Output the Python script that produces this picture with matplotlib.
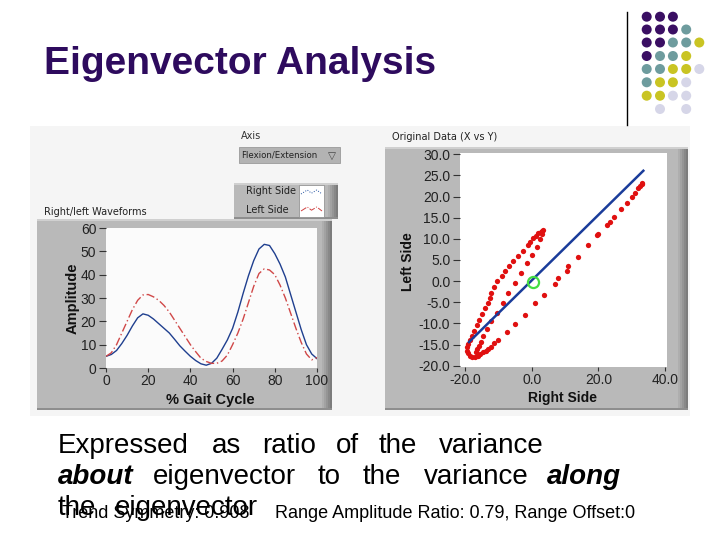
import matplotlib
matplotlib.use("Agg")
import matplotlib.pyplot as plt
from matplotlib.patches import Rectangle, Circle

plt.rcParams['font.family'] = ['Liberation Sans', 'DejaVu Sans']

# ---------------- data ----------------
title = "Eigenvector Analysis"

gait_pct = [0, 2.5, 5, 7.5, 10, 12.5, 15, 17.5, 20, 22.5, 25, 27.5, 30, 32.5, 35, 37.5,
            40, 42.5, 45, 47.5, 50, 52.5, 55, 57.5, 60, 62.5, 65, 67.5, 70, 72.5, 75,
            77.5, 80, 82.5, 85, 87.5, 90, 92.5, 95, 97.5, 100]
right_side = [5.0, 5.8, 7.5, 10.5, 14.0, 18.0, 21.5, 23.2, 22.6, 21.0, 19.0, 17.0, 15.0,
              12.3, 9.5, 7.2, 5.0, 3.2, 1.8, 1.2, 2.0, 4.2, 8.0, 12.0, 17.0, 24.0, 32.0,
              39.5, 46.0, 51.0, 53.0, 52.5, 49.0, 44.5, 39.0, 31.5, 24.0, 16.5, 10.0, 6.0, 4.0]
left_side = [5.0, 6.5, 10.0, 15.0, 20.0, 25.0, 29.0, 31.3, 31.5, 30.5, 29.0, 26.8, 24.0,
             20.5, 17.0, 13.5, 10.0, 7.0, 4.2, 2.8, 2.0, 2.0, 3.0, 5.5, 10.0, 15.0, 21.0,
             28.0, 35.0, 40.5, 42.5, 42.0, 40.0, 35.5, 30.0, 23.5, 17.0, 11.0, 6.0, 3.5, 4.5]

wave_xticks = [0, 20, 40, 60, 80, 100]
wave_yticks = [0, 10, 20, 30, 40, 50, 60]

# scatter of original data (Right side vs Left side, centred)
scatter_x = [-18.6, -18.0, -17.3, -16.5, -15.8, -15.0, -14.0, -13.0, -12.6, -12.2, -11.2,
             -10.5, -9.0, -8.0, -6.7, -5.5, -4.0, -2.5, -1.2, -0.5, 0.5, 1.2, 2.0, 2.7,
             3.2, 3.4,
             3.0, 2.5, 1.5, 0.2, -1.5, -3.2, -5.0, -7.0, -8.7, -10.5, -12.2, -13.5, -14.5,
             -15.2, -15.8, -16.3, -16.8,
             -19.2, -19.4, -19.3, -19.0, -18.5, -17.8, -17.0, -16.2, -15.4, -14.6, -13.8,
             -13.0, -12.2, -11.2, -10.0, -7.5, -5.0, -2.0, 1.0, 3.8, 7.0, 7.8, 10.5, 11.0,
             14.0, 17.0, 19.5, 20.0, 22.5, 23.5, 24.7, 26.7, 28.5, 30.0, 31.0, 32.0, 32.5,
             33.0, 33.2]
scatter_y = [-14.0, -13.0, -11.7, -10.4, -9.1, -7.7, -6.3, -5.1, -3.9, -2.7, -1.4,
             0.0, 1.3, 2.5, 3.6, 4.8, 6.0, 7.2, 8.5, 9.3, 10.1, 10.7, 11.3, 11.7,
             11.9, 12.1,
             11.2, 9.9, 8.1, 6.2, 4.2, 1.9, -0.5, -2.7, -5.2, -7.5, -9.5, -11.2, -13.0,
             -14.4, -15.3, -16.0, -16.7,
             -14.8, -15.6, -16.4, -17.1, -17.6, -17.9, -17.9, -17.6, -17.2, -16.8, -16.4,
             -16.0, -15.5, -14.7, -13.8, -12.1, -10.1, -7.9, -5.2, -3.3, -0.6, 0.8, 2.5, 3.5,
             5.8, 8.5, 10.8, 11.1, 13.3, 14.1, 15.2, 17.0, 18.5, 20.0, 20.9, 22.0, 22.5,
             22.9, 23.1]
eigen_x = [-18.8, 33.5]
eigen_y = [-14.4, 26.1]
centre_x = [0.3]
centre_y = [-0.1]
scat_xticks = [-20, 0, 20, 40]
scat_yticks = [-20, -15, -10, -5, 0, 5, 10, 15, 20, 25, 30]

dot_colors = [
    ['P', 'P', 'P', None, None],
    ['P', 'P', 'P', 'T', None],
    ['P', 'P', 'T', 'T', 'Y'],
    ['P', 'T', 'T', 'Y', None],
    ['T', 'T', 'Y', 'Y', 'L'],
    ['T', 'Y', 'Y', 'L', None],
    ['Y', 'Y', 'L', 'L', None],
    [None, 'L', None, 'L', None],
]
palette = {'P': '#3A0F63', 'T': '#6E9C9E', 'Y': '#C9C423', 'L': '#D6D6E8'}

W, H = 720, 540
fig = plt.figure(figsize=(7.2, 5.4), dpi=100)
fig.patch.set_facecolor('white')

def rect(x0, y0, x1, y1):
    return [x0 / W, 1 - y1 / H, (x1 - x0) / W, (y1 - y0) / H]

bg = fig.add_axes([0, 0, 1, 1])
bg.set_xlim(0, W)
bg.set_ylim(H, 0)
bg.axis('off')

# title
bg.text(44, 74, title, fontsize=28, fontweight='bold', color='#2E0B5E', ha='left', va='baseline')

# decoration: vertical line + dot grid
bg.plot([627, 627], [12, 125], color='black', lw=1)
col_x = [646.7, 660, 672.9, 686.2, 699.3]
row_y = [16.7, 29.5, 42.5, 56, 69, 82.3, 95.7, 109]
for r, row in enumerate(dot_colors):
    for c, key in enumerate(row):
        if key:
            bg.add_patch(Circle((col_x[c], row_y[r]), 5.0, fc=palette[key], ec='none'))

# screenshot background
bg.add_patch(Rectangle((30, 126), 660, 290, fc='#F5F5F5', ec='none'))

def frame(x0, y0, x1, y1):
    bg.add_patch(Rectangle((x0, y0), x1 - x0, y1 - y0, fc='#B9B9B9', ec='none'))
    shades = ['#AEAEAE', '#A2A2A2', '#959595', '#888888', '#7C7C7C']
    for i, s in enumerate(shades):
        bg.add_patch(Rectangle((x1 - 10 + i * 2, y0), 2, y1 - y0, fc=s, ec='none'))
    bg.add_patch(Rectangle((x0, y1 - 2), x1 - x0, 2, fc='#8E8E8E', ec='none'))
    bg.add_patch(Rectangle((x0, y0), x1 - x0, 1.5, fc='#D0D0D0', ec='none'))

frame(37, 219, 332, 410)
frame(385, 147, 688, 410)

# left controls
bg.text(241, 136, "Axis", fontsize=7, color='#333333', ha='left', va='center', family='DejaVu Sans')
bg.add_patch(Rectangle((239, 147), 101, 16, fc='#B3B3B3', ec='#9A9A9A', lw=0.6))
bg.text(241, 155.5, "Flexion/Extension", fontsize=6.2, color='#222222', ha='left', va='center', family='DejaVu Sans')
bg.text(332, 155.5, "\u25BD", fontsize=7.5, color='#444444', ha='center', va='center', family='DejaVu Sans')

# legend box
frame(234, 183, 338, 219)
bg.text(246, 191.5, "Right Side", fontsize=7, color='#222222', ha='left', va='center', family='DejaVu Sans')
bg.text(246, 210, "Left Side", fontsize=7, color='#222222', ha='left', va='center', family='DejaVu Sans')
bg.add_patch(Rectangle((299, 185), 25, 32, fc='white', ec='#888888', lw=0.5))
icon_dx = [0, 0.3, 0.5, 0.75, 1.0]
icon_dy = [0, -1, -0.2, -1.0, 0.0]
bg.plot([301 + 21 * d for d in icon_dx], [194 + 4 * e for e in icon_dy], color='#2050A0', lw=0.7, ls=':')
bg.plot([301 + 21 * d for d in icon_dx], [211 + 4 * e for e in icon_dy], color='#D04040', lw=0.7, ls='-.')

bg.text(44, 212, "Right/left Waveforms", fontsize=7, color='#222222', ha='left', va='center', family='DejaVu Sans')
bg.text(392, 137, "Original Data (X vs Y)", fontsize=7, color='#222222', ha='left', va='center', family='DejaVu Sans')

# axis titles
bg.text(73, 298, "Amplitude", fontsize=10.5, fontweight='bold', rotation=90, ha='center', va='center', color='#111111')
bg.text(210, 400, "% Gait Cycle", fontsize=10.5, fontweight='bold', ha='center', va='center', color='#111111')
bg.text(408, 262, "Left Side", fontsize=10, fontweight='bold', rotation=90, ha='center', va='center', color='#111111')
bg.text(562, 398, "Right Side", fontsize=10, fontweight='bold', ha='center', va='center', color='#111111')

# ---------------- waveform plot ----------------
ax1 = fig.add_axes(rect(106, 228, 317, 368))
ax1.set_facecolor('#FBFBFB')
ax1.plot(gait_pct, right_side, color='#1F3F8F', lw=1.0)
ax1.plot(gait_pct, left_side, color='#D04848', lw=1.0, ls=(0, (6, 2, 1, 2)))
ax1.set_xlim(0, 100)
ax1.set_ylim(0, 60)
ax1.set_xticks(wave_xticks)
ax1.set_yticks(wave_yticks)
for s in ax1.spines.values():
    s.set_visible(False)
ax1.tick_params(direction='out', length=5, width=0.8, color='#333333', labelsize=10,
                labelcolor='#222222', pad=2)
ax1.tick_params(axis='x', length=3, pad=1)

# ---------------- scatter plot ----------------
ax2 = fig.add_axes(rect(460, 153, 667, 367))
ax2.set_facecolor('white')
ax2.plot(scatter_x, scatter_y, 'o', color='#E01010', ms=3.8, mec='none')
ax2.plot(eigen_x, eigen_y, color='#1A3C9A', lw=1.8)
ax2.plot(centre_x, centre_y, 'o', mfc='none', mec='#44DD44', ms=8, mew=1.6)
ax2.set_xlim(-21.5, 40.6)
ax2.set_ylim(-20.3, 30.3)
ax2.set_xticks(scat_xticks)
ax2.set_yticks(scat_yticks)
ax2.set_xticklabels([f"{v:.1f}" for v in scat_xticks])
ax2.set_yticklabels([f"{v:.1f}" for v in scat_yticks])
for s in ax2.spines.values():
    s.set_visible(False)
ax2.tick_params(direction='out', length=5, width=0.8, color='#333333', labelsize=10,
                labelcolor='#222222', pad=2)
ax2.tick_params(axis='x', length=3, pad=1)

# ---------------- slide text ----------------
fs = 20
line1 = [("Expressed", 58), ("as", 212), ("ratio", 262), ("of", 336), ("the", 379), ("variance", 439)]
for w, x in line1:
    bg.text(x, 453, w, fontsize=fs, ha='left', va='baseline', color='black')
line2 = [("about", 58, True), ("eigenvector", 153, False), ("to", 318, False), ("the", 363, False),
         ("variance", 424, False), ("along", 547, True)]
for w, x, em in line2:
    bg.text(x, 484, w, fontsize=fs, ha='left', va='baseline', color='black',
            fontweight='bold' if em else 'normal', style='italic' if em else 'normal')
bg.text(58, 515, "the", fontsize=fs, ha='left', va='baseline', color='black')
bg.text(115, 515, "eigenvector", fontsize=fs, ha='left', va='baseline', color='black')
bg.text(62, 518, "Trend Symmetry: 0.908", fontsize=13, ha='left', va='baseline', color='black')
bg.text(275, 518, "Range Amplitude Ratio: 0.79, Range Offset:0", fontsize=13, ha='left', va='baseline', color='black')

fig.savefig("out.png", dpi=100)
